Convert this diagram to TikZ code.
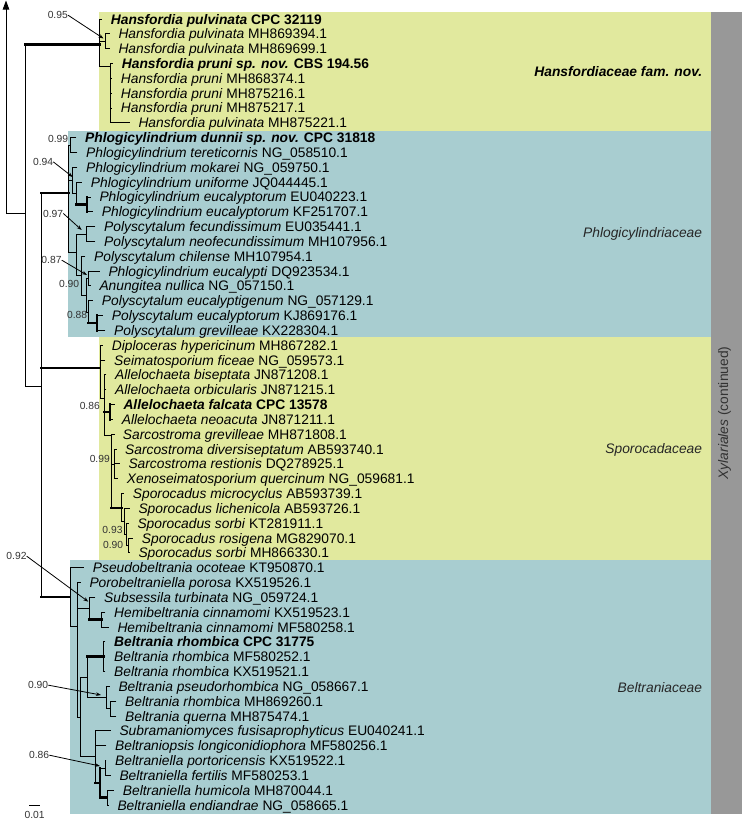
\documentclass[tikz,border=0pt]{standalone}
\usepackage{fontspec}
\setmainfont{Liberation Sans}
\usetikzlibrary{arrows.meta}
\definecolor{fyellow}{RGB}{225,233,158}
\definecolor{fblue}{RGB}{168,205,208}
\definecolor{fgray}{RGB}{152,152,152}
\newcommand\mkleaf[5]{%
  \coordinate (#1) at (#3,{19+(#2-1)*14.83});
  \node[leaf] (T#1) at (#4,{19+(#2-1)*14.83+5}) {#5};}
\newcommand\bredge[3][br]{\draw[#1] (#2 |- #3) -- (#3);}
\newcommand\cladev[4][br]{\draw[#1] (#2 |- #3) -- (#2 |- #4);}
\newcommand\supval[3]{\node[suplab] (#1) at (#2) {#3};}
\begin{document}
\begin{tikzpicture}[x=1pt,y=-1pt,
  br/.style={line width=0.9pt, line cap=rect},
  tbr/.style={line width=2.6pt, line cap=rect},
  leaf/.style={anchor=base west, inner sep=0pt, font=\fontsize{13.8}{14}\selectfont},
  suplab/.style={anchor=base east, inner sep=0pt, font=\fontsize{10.3}{11}\selectfont, text=black!80},
  suparrow/.style={line width=0.8pt, -{Stealth[length=5pt,width=3.6pt]}},
  fam/.style={anchor=base east, inner sep=0pt, font=\fontsize{13.8}{14}\selectfont\itshape, text=black!85}]
\useasboundingbox (0,0) rectangle (742,827);
% family boxes
\fill[fyellow] (99.3,12) rectangle (710.7,131);
\fill[fblue] (68.3,131) rectangle (710.7,337.3);
\fill[fyellow] (99,337.3) rectangle (710.7,560);
\fill[fblue] (69.5,560) rectangle (710.7,814);
\fill[fgray] (710.7,12) rectangle (742,814);
% leaves
\mkleaf{L1}{1}{101.7}{110.7}{\textbf{\textit{Hansfordia pulvinata} CPC 32119}}
\mkleaf{L2}{2}{109.3}{118.3}{\textit{Hansfordia pulvinata} MH869394.1}
\mkleaf{L3}{3}{109.3}{118.3}{\textit{Hansfordia pulvinata} MH869699.1}
\mkleaf{L4}{4}{112.7}{121.7}{\textbf{\textit{Hansfordia pruni sp. nov.} CBS 194.56}}
\mkleaf{L5}{5}{111.7}{120.7}{\textit{Hansfordia pruni} MH868374.1}
\mkleaf{L6}{6}{111.7}{120.7}{\textit{Hansfordia pruni} MH875216.1}
\mkleaf{L7}{7}{111.7}{120.7}{\textit{Hansfordia pruni} MH875217.1}
\mkleaf{L8}{8}{129.3}{138.3}{\textit{Hansfordia pulvinata} MH875221.1}
\mkleaf{L9}{9}{76}{85}{\textbf{\textit{Phlogicylindrium dunnii sp. nov.} CPC 31818}}
\mkleaf{L10}{10}{77}{86}{\textit{Phlogicylindrium tereticornis} NG\_058510.1}
\mkleaf{L11}{11}{77}{86}{\textit{Phlogicylindrium mokarei} NG\_059750.1}
\mkleaf{L12}{12}{81.7}{90.7}{\textit{Phlogicylindrium uniforme} JQ044445.1}
\mkleaf{L13}{13}{90.3}{99.3}{\textit{Phlogicylindrium eucalyptorum} EU040223.1}
\mkleaf{L14}{14}{92.7}{101.7}{\textit{Phlogicylindrium eucalyptorum} KF251707.1}
\mkleaf{L15}{15}{95}{104}{\textit{Polyscytalum fecundissimum} EU035441.1}
\mkleaf{L16}{16}{95}{104}{\textit{Polyscytalum neofecundissimum} MH107956.1}
\mkleaf{L17}{17}{85}{94}{\textit{Polyscytalum chilense} MH107954.1}
\mkleaf{L18}{18}{99.3}{108.3}{\textit{Phlogicylindrium eucalypti} DQ923534.1}
\mkleaf{L19}{19}{90.3}{99.3}{\textit{Anungitea nullica} NG\_057150.1}
\mkleaf{L20}{20}{92.7}{101.7}{\textit{Polyscytalum eucalyptigenum} NG\_057129.1}
\mkleaf{L21}{21}{102.7}{111.7}{\textit{Polyscytalum eucalyptorum} KJ869176.1}
\mkleaf{L22}{22}{105}{114}{\textit{Polyscytalum grevilleae} KX228304.1}
\mkleaf{L23}{23}{102.7}{111.7}{\textit{Diploceras hypericinum} MH867282.1}
\mkleaf{L24}{24}{105}{114}{\textit{Seimatosporium ficeae} NG\_059573.1}
\mkleaf{L25}{25}{106}{115}{\textit{Allelochaeta biseptata} JN871208.1}
\mkleaf{L26}{26}{106}{115}{\textit{Allelochaeta orbicularis} JN871215.1}
\mkleaf{L27}{27}{114.3}{123.3}{\textbf{\textit{Allelochaeta falcata} CPC 13578}}
\mkleaf{L28}{28}{112.7}{121.7}{\textit{Allelochaeta neoacuta} JN871211.1}
\mkleaf{L29}{29}{114.5}{122.7}{\textit{Sarcostroma grevilleae} MH871808.1}
\mkleaf{L30}{30}{116.5}{125}{\textit{Sarcostroma diversiseptatum} AB593740.1}
\mkleaf{L31}{31}{119.3}{128.3}{\textit{Sarcostroma restionis} DQ278925.1}
\mkleaf{L32}{32}{117.7}{126.7}{\textit{Xenoseimatosporium quercinum} NG\_059681.1}
\mkleaf{L33}{33}{123.7}{132.7}{\textit{Sporocadus microcyclus} AB593739.1}
\mkleaf{L34}{34}{129.3}{138.3}{\textit{Sporocadus lichenicola} AB593726.1}
\mkleaf{L35}{35}{128.3}{137.3}{\textit{Sporocadus sorbi} KT281911.1}
\mkleaf{L36}{36}{132.7}{141.7}{\textit{Sporocadus rosigena} MG829070.1}
\mkleaf{L37}{37}{129.3}{138.3}{\textit{Sporocadus sorbi} MH866330.1}
\mkleaf{L38}{38}{83.7}{92.7}{\textit{Pseudobeltrania ocoteae} KT950870.1}
\mkleaf{L39}{39}{80.3}{89.3}{\textit{Porobeltraniella porosa} KX519526.1}
\mkleaf{L40}{40}{95}{104}{\textit{Subsessila turbinata} NG\_059724.1}
\mkleaf{L41}{41}{105}{114}{\textit{Hemibeltrania cinnamomi} KX519523.1}
\mkleaf{L42}{42}{108.3}{117.3}{\textit{Hemibeltrania cinnamomi} MF580258.1}
\mkleaf{L43}{43}{105}{114}{\textbf{\textit{Beltrania rhombica} CPC 31775}}
\mkleaf{L44}{44}{105}{114}{\textit{Beltrania rhombica} MF580252.1}
\mkleaf{L45}{45}{105}{114}{\textit{Beltrania rhombica} KX519521.1}
\mkleaf{L46}{46}{109.3}{118.3}{\textit{Beltrania pseudorhombica} NG\_058667.1}
\mkleaf{L47}{47}{116}{125}{\textit{Beltrania rhombica} MH869260.1}
\mkleaf{L48}{48}{116}{125}{\textit{Beltrania querna} MH875474.1}
\mkleaf{L49}{49}{110.3}{119.3}{\textit{Subramaniomyces fusisaprophyticus} EU040241.1}
\mkleaf{L50}{50}{106}{115}{\textit{Beltraniopsis longiconidiophora} MF580256.1}
\mkleaf{L51}{51}{106}{115}{\textit{Beltraniella portoricensis} KX519522.1}
\mkleaf{L52}{52}{110.3}{119.3}{\textit{Beltraniella fertilis} MF580253.1}
\mkleaf{L53}{53}{113.7}{122.7}{\textit{Beltraniella humicola} MH870044.1}
\mkleaf{L54}{54}{108.3}{117.3}{\textit{Beltraniella endiandrae} NG\_058665.1}
% internal nodes
\coordinate (R) at (6,213);
\coordinate (tip) at (6,0.5);
\coordinate (N1) at (25,213);
\coordinate (N2) at (41,386);
\coordinate (H) at (99.3,44.3);
\coordinate (P) at (68.3,193);
\coordinate (S) at (100,368);
\coordinate (B) at (70,597);
\coordinate (H1) at (105,41.2);
\coordinate (H2) at (110,66.7);
\coordinate (P1) at (70.7,145);
\coordinate (PA) at (72.7,180);
\coordinate (PA3) at (76.7,193.3);
\coordinate (PA4) at (87,204.4);
\coordinate (PB) at (76.7,252);
\coordinate (PB1) at (86,234);
\coordinate (PC) at (81.7,275.7);
\coordinate (PD) at (86,295);
\coordinate (PE) at (88,278.5);
\coordinate (PF) at (88.5,312);
\coordinate (PG) at (97,323);
\coordinate (S1) at (104,398);
\coordinate (S3) at (110,412);
\coordinate (S4) at (111.5,435);
\coordinate (S5) at (114.5,464);
\coordinate (S6) at (121.7,508);
\coordinate (S7) at (124,521.4);
\coordinate (S8) at (126,534.4);
\coordinate (S9) at (128,545.5);
\coordinate (Bn) at (77,626.7);
\coordinate (Bsh) at (89.3,608.5);
\coordinate (Bhe) at (101.7,619.7);
\coordinate (Bp) at (80.5,717);
\coordinate (Bq2) at (87.3,677.1);
\coordinate (Brh) at (103.3,656.7);
\coordinate (Bps) at (106,697.5);
\coordinate (Bq) at (110,708.7);
\coordinate (Bx) at (95,756.9);
\coordinate (Bl) at (100,782.8);
\coordinate (Bl1) at (105,768);
\coordinate (Bl2) at (107,797.6);
% backbone
\draw[br,-{Triangle[length=9pt,width=6.5pt]}] (R) -- (tip);
\draw[br] (R) -- (N1);
\cladev{N1}{H}{N2} \bredge[tbr]{N1}{H} \bredge{N1}{N2}
\cladev{N2}{P}{B} \bredge[tbr]{N2}{P} \bredge[tbr]{N2}{S} \bredge[tbr]{N2}{B}
% Hansfordiaceae
\cladev{H}{L1}{H2} \bredge{H}{L1} \bredge{H}{H1} \bredge{H}{H2}
\cladev{H1}{L2}{L3} \bredge{H1}{L2} \bredge{H1}{L3}
\cladev{H2}{L4}{L8} \bredge{H2}{L4} \bredge{H2}{L5} \bredge{H2}{L6} \bredge{H2}{L7} \bredge{H2}{L8}
% Phlogicylindriaceae
\cladev{P}{P1}{PB} \bredge{P}{P1} \bredge{P}{PA} \bredge{P}{PB}
\cladev{P1}{L9}{L10} \bredge{P1}{L9} \bredge{P1}{L10}
\cladev{PA}{L11}{PA3} \bredge{PA}{L11} \bredge{PA}{PA3}
\cladev{PA3}{L12}{PA4} \bredge{PA3}{L12} \bredge[tbr]{PA3}{PA4}
\cladev[tbr]{PA4}{L13}{L14} \bredge{PA4}{L13} \bredge{PA4}{L14}
\cladev{PB}{PB1}{PC} \bredge{PB}{PB1} \bredge{PB}{PC}
\cladev{PB1}{L15}{L16} \bredge{PB1}{L15} \bredge{PB1}{L16}
\cladev{PC}{L17}{PD} \bredge{PC}{L17} \bredge{PC}{PD}
\cladev{PD}{PE}{PF} \bredge{PD}{PE} \bredge{PD}{PF}
\cladev{PE}{L18}{L19} \bredge{PE}{L18} \bredge{PE}{L19}
\cladev{PF}{L20}{PG} \bredge{PF}{L20} \bredge[tbr]{PF}{PG}
\cladev[tbr]{PG}{L21}{L22} \bredge{PG}{L21} \bredge{PG}{L22}
% Sporocadaceae
\cladev{S}{L23}{S1} \bredge{S}{L23} \bredge{S}{L24} \bredge{S}{S1}
\cladev{S1}{L25}{S4} \bredge{S1}{L25} \bredge{S1}{L26} \bredge[tbr]{S1}{S3} \bredge{S1}{S4}
\cladev[tbr]{S3}{L27}{L28} \bredge{S3}{L27} \bredge{S3}{L28}
\cladev{S4}{L29}{S6} \bredge{S4}{L29} \bredge{S4}{S5} \bredge[tbr]{S4}{S6}
\cladev{S5}{L30}{L32} \bredge{S5}{L30} \bredge{S5}{L31} \bredge{S5}{L32}
\cladev{S6}{L33}{S7} \bredge{S6}{L33} \bredge{S6}{S7}
\cladev{S7}{L34}{S8} \bredge{S7}{L34} \bredge{S7}{S8}
\cladev{S8}{L35}{S9} \bredge{S8}{L35} \bredge{S8}{S9}
\cladev{S9}{L36}{L37} \bredge{S9}{L36} \bredge{S9}{L37}
% Beltraniaceae
\cladev{B}{L38}{Bn} \bredge{B}{L38} \bredge{B}{Bn}
\cladev{Bn}{L39}{Bp} \bredge{Bn}{L39} \bredge{Bn}{Bsh} \bredge{Bn}{Bp}
\cladev{Bsh}{L40}{Bhe} \bredge{Bsh}{L40} \bredge[tbr]{Bsh}{Bhe}
\cladev{Bhe}{L41}{L42} \bredge{Bhe}{L41} \bredge{Bhe}{L42}
\cladev{Bp}{Bq2}{Bx} \bredge{Bp}{Bq2} \bredge{Bp}{Bx}
\cladev{Bq2}{Brh}{Bps} \bredge[tbr]{Bq2}{Brh} \bredge{Bq2}{Bps}
\cladev{Brh}{L43}{L45} \bredge{Brh}{L43} \bredge{Brh}{L44} \bredge{Brh}{L45}
\cladev{Bps}{L46}{Bq} \bredge{Bps}{L46} \bredge{Bps}{Bq}
\cladev{Bq}{L47}{L48} \bredge{Bq}{L47} \bredge{Bq}{L48}
\cladev{Bx}{L49}{Bl} \bredge{Bx}{L49} \bredge{Bx}{L50} \bredge[tbr]{Bx}{Bl}
\cladev[tbr]{Bl}{Bl1}{Bl2} \bredge{Bl}{Bl1} \bredge[tbr]{Bl}{Bl2}
\cladev{Bl1}{L51}{L52} \bredge{Bl1}{L51} \bredge{Bl1}{L52}
\cladev{Bl2}{L53}{L54} \bredge{Bl2}{L53} \bredge{Bl2}{L54}
% support values
\supval{s095}{68,18.7}{0.95}
\supval{s099a}{68.3,142.7}{0.99}
\supval{s094}{53.3,165.4}{0.94}
\supval{s097}{63.3,217}{0.97}
\supval{s087}{61.7,263.7}{0.87}
\supval{s090a}{79.3,287}{0.90}
\supval{s088}{87.3,318.7}{0.88}
\supval{s086a}{100,409.7}{0.86}
\supval{s099b}{110,462}{0.99}
\supval{s093}{122.7,533}{0.93}
\supval{s090b}{123.3,548.7}{0.90}
\supval{s092}{26.7,559.7}{0.92}
\supval{s090c}{48.3,688.7}{0.90}
\supval{s086b}{49.3,758.7}{0.86}
\coordinate (t095) at (103.5,38.5);
\coordinate (t094) at (72.7,177);
\coordinate (t097) at (81.7,230);
\coordinate (t087) at (87,275);
\coordinate (t092) at (88.3,601.7);
\coordinate (t090c) at (101,695);
\coordinate (t086b) at (100,766);
\draw[suparrow] (s095.east) -- (t095);
\draw[suparrow] (s094.east) -- (t094);
\draw[suparrow] (s097.east) -- (t097);
\draw[suparrow] (s087.east) -- (t087);
\draw[suparrow] (s092.east) -- (t092);
\draw[suparrow] (s090c.east) -- (t090c);
\draw[suparrow] (s086b.east) -- (t086b);
% family labels
\node[fam, font=\fontsize{13.8}{14}\selectfont\bfseries\itshape, text=black] (famH) at (702.3,76) {Hansfordiaceae fam. nov.};
\node[fam] (famP) at (702.3,237.7) {Phlogicylindriaceae};
\node[fam] (famS) at (702.3,453.3) {Sporocadaceae};
\node[fam] (famB) at (702.3,692.3) {Beltraniaceae};
\node[rotate=90, inner sep=0pt, font=\fontsize{13.8}{14}\selectfont, text=black!80] (xyl) at (724.5,413) {\textit{Xylariales} (continued)};
% scale bar
\coordinate (sb1) at (29.3,805.5);
\coordinate (sb2) at (40,805.5);
\draw[line width=0.8pt] (sb1) -- (sb2);
\node[inner sep=0pt, anchor=base, font=\fontsize{10.3}{11}\selectfont, text=black!80] (sbl) at (34.6,818) {0.01};
\end{tikzpicture}
\end{document}
